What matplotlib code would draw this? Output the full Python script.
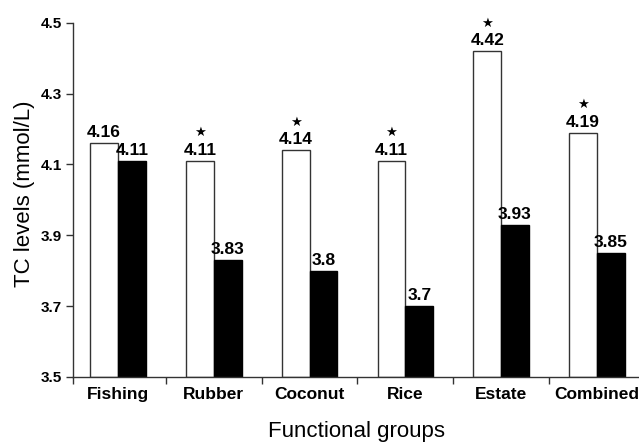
import matplotlib
matplotlib.use("Agg")
import matplotlib.pyplot as plt
import numpy as np

groups = ["Fishing", "Rubber", "Coconut", "Rice", "Estate", "Combined"]
open_vals = [4.16, 4.11, 4.14, 4.11, 4.42, 4.19]
solid_vals = [4.11, 3.83, 3.8, 3.7, 3.93, 3.85]
starred = [False, True, True, True, True, True]
yticks = [3.5, 3.7, 3.9, 4.1, 4.3, 4.5]

plt.rcParams["font.family"] = ["Liberation Sans", "DejaVu Sans"]

fig = plt.figure(figsize=(6.39, 4.42), dpi=100)
ax = fig.add_axes([73 / 639, 65 / 442, (639 - 73) / 639, (377 - 22.7) / 442])

x = np.arange(len(groups))
w = 0.29
ax.bar(x - w / 2, np.array(open_vals) - 3.5, w, bottom=3.5, color="white",
       edgecolor="#333333", linewidth=1.0)
ax.bar(x + w / 2, np.array(solid_vals) - 3.5, w, bottom=3.5, color="black",
       edgecolor="black", linewidth=1.0)

for i in range(len(groups)):
    ax.annotate(f"{open_vals[i]:g}", (x[i] - w / 2, open_vals[i]),
                xytext=(0, 2), textcoords="offset points", ha="center",
                va="bottom", fontsize=12.5, fontweight="bold")
    ax.annotate(f"{solid_vals[i]:g}", (x[i] + w / 2, solid_vals[i]),
                xytext=(0, 2), textcoords="offset points", ha="center",
                va="bottom", fontsize=12.5, fontweight="bold")
    if starred[i]:
        ax.annotate("\u2605", (x[i] - w / 2, open_vals[i]),
                    xytext=(0, 15.5), textcoords="offset points", ha="center",
                    va="bottom", fontsize=9.5, family="DejaVu Sans")

xlo = -0.47
ax.set_xlim(xlo, 5.44)
ax.set_ylim(3.5, 4.5)
ax.set_yticks(yticks)
ax.set_yticklabels([f"{v:g}" for v in yticks], fontweight="bold", fontsize=11)
ax.set_xticks([xlo] + list(x[:-1] + 0.5))
ax.set_xticklabels([])
ax.set_xticks(x, minor=True)
ax.set_xticklabels(groups, minor=True, fontweight="bold", fontsize=12.5)
ax.tick_params(axis="x", which="minor", length=0, pad=7)
ax.tick_params(axis="x", which="major", length=5, width=1, color="#333333")
ax.tick_params(axis="y", length=5, width=1, color="#333333", pad=3)

for side in ["top", "right"]:
    ax.spines[side].set_visible(False)
for side in ["left", "bottom"]:
    ax.spines[side].set_color("#333333")
    ax.spines[side].set_linewidth(1.0)

fig.text(25 / 639, 1 - 194 / 442, "TC levels (mmol/L)", rotation=90,
         ha="center", va="center", fontsize=16)
fig.text(356 / 639, 1 - 432 / 442, "Functional groups",
         ha="center", va="center", fontsize=16)

fig.savefig("out.png", dpi=100)
